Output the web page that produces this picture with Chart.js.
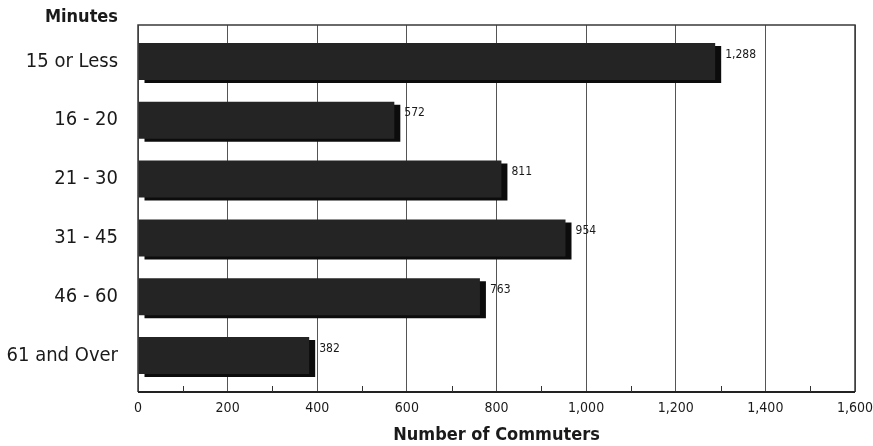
<!DOCTYPE html>
<html>
<head>
<meta charset="utf-8">
<script src="https://cdn.jsdelivr.net/npm/chart.js@4.4.1/dist/chart.umd.min.js"></script>
<style>
  html, body { margin: 0; padding: 0; background: #ffffff; }
  #wrap { width: 873px; height: 446px; position: relative; }
</style>
</head>
<body>
<div id="wrap"><canvas id="c" width="873" height="446"></canvas></div>
<script>
// Commute time bands and commuter counts
const categories = ['15 or Less', '16 - 20', '21 - 30', '31 - 45', '46 - 60', '61 and Over'];
const commuters = [1288, 572, 811, 954, 763, 382];
const axisMax = 1600;
const majorStep = 200;
const minorStep = 100;

const FONT = '"Liberation Sans Narrow", "Arial Narrow", "DejaVu Sans Condensed", sans-serif';
const BAR = '#242424';
const SHADOW = '#0c0c0c';
const SHADOW_DX = 6, SHADOW_DY = 3;

const fmt = v => v.toLocaleString('en-US');

// Drop-shadow behind each bar, frame, minor ticks, value labels and the "Minutes" heading
const decor = {
  id: 'decor',
  beforeDatasetsDraw(chart) {
    const ctx = chart.ctx;
    ctx.save();
    ctx.shadowColor = SHADOW;
    ctx.shadowOffsetX = SHADOW_DX;
    ctx.shadowOffsetY = SHADOW_DY;
    ctx.shadowBlur = 0;
  },
  afterDatasetsDraw(chart) {
    const ctx = chart.ctx;
    ctx.restore();
    const { left, right, top, bottom } = chart.chartArea;
    const xs = chart.scales.x;

    // frame
    ctx.save();
    ctx.strokeStyle = '#3a3a3a';
    ctx.lineWidth = 1.5;
    ctx.beginPath();
    ctx.moveTo(left, bottom);
    ctx.lineTo(left, top);
    ctx.lineTo(right, top);
    ctx.lineTo(right, bottom);
    ctx.stroke();
    ctx.lineWidth = 2;
    ctx.strokeStyle = '#222';
    ctx.beginPath();
    ctx.moveTo(left, bottom);
    ctx.lineTo(right, bottom);
    ctx.stroke();

    // minor ticks rising from the baseline
    ctx.lineWidth = 1;
    ctx.strokeStyle = '#333';
    for (let v = minorStep; v < axisMax; v += majorStep) {
      const x = Math.round(xs.getPixelForValue(v)) + 0.5;
      ctx.beginPath();
      ctx.moveTo(x, bottom);
      ctx.lineTo(x, bottom - 6);
      ctx.stroke();
    }

    // value labels
    const meta = chart.getDatasetMeta(0);
    ctx.fillStyle = '#1a1a1a';
    ctx.font = '12px ' + FONT;
    ctx.textAlign = 'left';
    ctx.textBaseline = 'middle';
    meta.data.forEach((bar, i) => {
      ctx.fillText(fmt(commuters[i]), bar.x + SHADOW_DX + 4, bar.y - 7);
    });

    // category heading
    ctx.font = 'bold 18px ' + FONT;
    ctx.textAlign = 'right';
    ctx.fillStyle = '#1a1a1a';
    ctx.fillText('Minutes', 118, 17);
    ctx.restore();
  }
};

new Chart(document.getElementById('c'), {
  type: 'bar',
  data: {
    labels: categories,
    datasets: [{
      data: commuters,
      backgroundColor: BAR,
      borderWidth: 0,
      barPercentage: 0.63,
      categoryPercentage: 1.0
    }]
  },
  options: {
    indexAxis: 'y',
    responsive: false,
    animation: false,
    layout: { padding: { top: 25, right: 18, bottom: 0, left: 0 } },
    plugins: {
      legend: { display: false },
      tooltip: { enabled: false }
    },
    scales: {
      x: {
        min: 0,
        max: axisMax,
        border: { display: false },
        grid: {
          color: '#555',
          lineWidth: 1,
          drawTicks: false
        },
        afterBuildTicks(scale) {
          const t = [];
          for (let v = 0; v <= axisMax; v += majorStep) t.push({ value: v });
          scale.ticks = t;
        },
        ticks: {
          color: '#1a1a1a',
          font: { family: FONT, size: 14 },
          padding: 8,
          maxRotation: 0,
          callback: v => fmt(v)
        },
        title: {
          display: true,
          text: 'Number of Commuters',
          color: '#1a1a1a',
          font: { family: FONT, size: 18, weight: 'bold' },
          padding: { top: 14, bottom: 0 }
        },
        afterFit(scale) {
          scale.height = 54;
          scale.paddingLeft = 0;
          scale.paddingRight = 0;
        }
      },
      y: {
        border: { display: false },
        grid: { display: false, drawTicks: false },
        ticks: {
          color: '#1a1a1a',
          font: { family: FONT, size: 20 },
          padding: 20
        },
        // leave a little extra room above the first band and below the last one
        afterBuildTicks(scale) {
          scale._startValue = -0.62;
          scale._valueRange = 6.24;
        },
        afterFit(scale) {
          scale.width = 138;
          scale.paddingTop = 0;
          scale.paddingBottom = 0;
        }
      }
    }
  },
  plugins: [decor]
});
</script>
</body>
</html>
